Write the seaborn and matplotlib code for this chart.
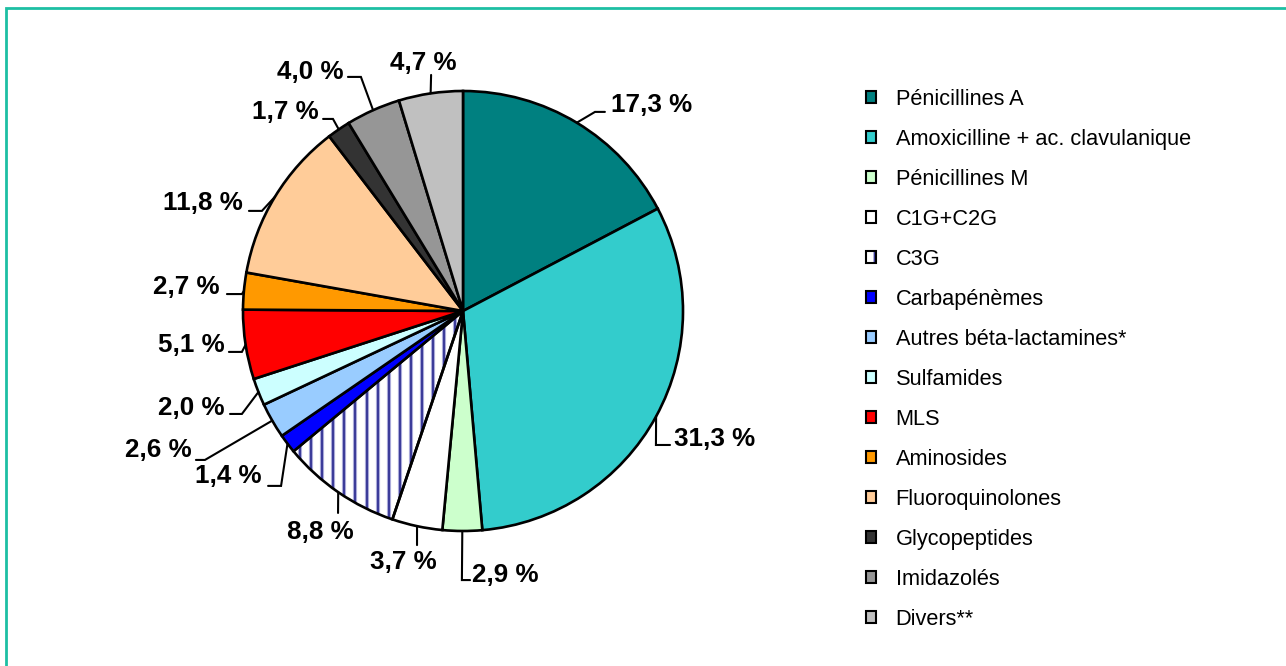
import numpy as np
import matplotlib
matplotlib.use("Agg")
import matplotlib.pyplot as plt
import matplotlib.patches as mpatches
import seaborn as sns

# data
categories = ["Pénicillines A", "Amoxicilline + ac. clavulanique", "Pénicillines M",
              "C1G+C2G", "C3G", "Carbapénèmes", "Autres béta-lactamines*",
              "Sulfamides", "MLS", "Aminosides", "Fluoroquinolones",
              "Glycopeptides", "Imidazolés", "Divers**"]
shares = [17.3, 31.3, 2.9, 3.7, 8.8, 1.4, 2.6, 2.0, 5.1, 2.7, 11.8, 1.7, 4.0, 4.7]
colors = ["#008080", "#33CCCC", "#CCFFCC", "#FFFFFF", "#FFFFFF", "#0000FF", "#99CCFF",
          "#CCFFFF", "#FF0000", "#FF9900", "#FFCC99", "#333333", "#969696", "#C0C0C0"]
hatched = "C3G"

# label layout (pie radius = 1): elbow point, horizontal tail length, text anchor
elbows = [(0.60, 0.905, 0.045), (0.877, -0.609, 0.064), (-0.005, -1.223, 0.037),
          (-0.209, -1.064, 0), (-0.568, -0.918, 0), (-0.827, -0.795, -0.059),
          (-1.173, -0.677, -0.041), (-1.005, -0.468, -0.054), (-1.005, -0.186, -0.059),
          (-1.005, 0.077, -0.068), (-0.914, 0.455, -0.059), (-0.591, 0.873, -0.045),
          (-0.464, 1.064, -0.059), (-0.145, 1.073, 0)]
text_pos = [(0.673, 0.936, "left"), (0.959, -0.582, "left"), (0.041, -1.2, "left"),
            (-0.273, -1.141, "center"), (-0.65, -1.005, "center"), (-0.914, -0.75, "right"),
            (-1.232, -0.632, "right"), (-1.082, -0.441, "right"), (-1.082, -0.155, "right"),
            (-1.105, 0.109, "right"), (-1.0, 0.491, "right"), (-0.655, 0.905, "right"),
            (-0.545, 1.086, "right"), (-0.182, 1.127, "center")]

sns.set_theme(style="white")
plt.rcParams["font.family"] = ["Liberation Sans", "DejaVu Sans"]
plt.rcParams["hatch.linewidth"] = 2.0

W, H, R = 1286, 666, 220
cx, cy = 463, 311
fig = plt.figure(figsize=(W / 100, H / 100), dpi=100)
ax = fig.add_axes([0, 0, 1, 1])

face = [("none" if c == hatched else col) for c, col in zip(categories, colors)]
wedges, _ = ax.pie(shares, colors=face, startangle=90, counterclock=False,
                   wedgeprops=dict(edgecolor="black", linewidth=1.9))

# vertical stripes for C3G, clipped to its wedge
w3 = wedges[categories.index(hatched)]
xs = np.arange(-1.2, 1.2, 0.0505) + 0.004
for col, lw, z in [("#B0B0DC", 3.0, 0.4), ("#3C3C9A", 1.5, 0.5)]:
    lc = ax.vlines(xs, -1.1, 1.1, colors=col, linewidth=lw, zorder=z)
    lc.set_clip_path(w3)

# percentage labels with leader lines
for w, v, (ex, ey, tail), (tx, ty, ha) in zip(wedges, shares, elbows, text_pos):
    mid = np.deg2rad((w.theta1 + w.theta2) / 2)
    ax_, ay_ = np.cos(mid), np.sin(mid)
    ax.plot([ax_, ex, ex + tail], [ay_, ey, ey], color="black", lw=1.5,
            solid_joinstyle="miter", zorder=3)
    lbl = f"{v:.1f} %".replace(".", ",")
    ax.text(tx, ty, lbl, ha=ha, va="center", fontsize=18.7, fontweight="bold",
            color="black", zorder=4)

ax.set_xlim(-cx / R, (W - cx) / R)
ax.set_ylim(-(H - cy) / R, cy / R)
ax.set_aspect("equal")
ax.axis("off")

handles = []
for c, col in zip(categories, colors):
    if c == hatched:
        handles.append(mpatches.Patch(facecolor="white", edgecolor="#3C3C9A",
                                      linewidth=1.5, hatch="|"))
    else:
        handles.append(mpatches.Patch(facecolor=col, edgecolor="black", linewidth=1.5))
leg = fig.legend(handles, categories, loc="upper left",
                 bbox_to_anchor=(866 / W, 1 - 89 / H), frameon=False,
                 fontsize=15.7, handlelength=0.46, handleheight=0.46,
                 handletextpad=0.9, labelspacing=0.87, borderpad=0, borderaxespad=0,
                 labelcolor="black")
# keep a black border on the striped swatch
for p in leg.get_patches():
    if p.get_hatch():
        p.set_edgecolor("black")
        p._hatch_color = matplotlib.colors.to_rgba("#3C3C9A")

# teal frame (only top and left edges visible in the reference)
fig.add_artist(mpatches.Rectangle((5.5 / W, -0.1), 1.2, 1.1 - 8.5 / H,
                                  transform=fig.transFigure, fill=False,
                                  edgecolor="#1DBFA3", linewidth=2))

fig.savefig("out.png", dpi=100)
